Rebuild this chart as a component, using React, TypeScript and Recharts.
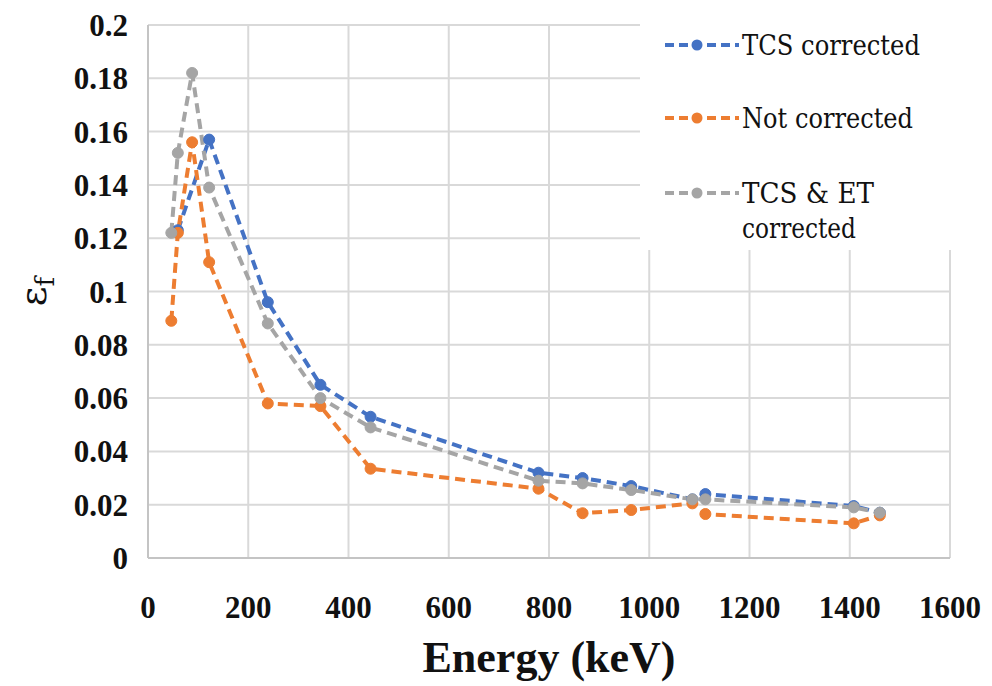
import React from 'react';
import {
  LineChart,
  Line,
  XAxis,
  YAxis,
  CartesianGrid,
} from 'recharts';

// TCS corrected
const tcsEnergy = [59.5, 122, 239, 344, 444, 779, 867, 964, 1086, 1112, 1408, 1460];
const tcsEff = [0.123, 0.157, 0.096, 0.065, 0.053, 0.032, 0.03, 0.027, 0.022, 0.024, 0.0195, 0.017];

// Not corrected
const notEnergy = [46.5, 59.5, 88, 122, 239, 344, 444, 779, 867, 964, 1086, 1112, 1408, 1460];
const notEff = [0.089, 0.122, 0.156, 0.111, 0.058, 0.057, 0.0335, 0.026, 0.0168, 0.018, 0.0205, 0.0165, 0.013, 0.016];

// TCS & ET corrected
const etEnergy = [46.5, 59.5, 88, 122, 239, 344, 444, 779, 867, 964, 1086, 1112, 1408, 1460];
const etEff = [0.122, 0.152, 0.182, 0.139, 0.088, 0.06, 0.049, 0.029, 0.028, 0.0255, 0.022, 0.022, 0.019, 0.017];

const xTicks = [0, 200, 400, 600, 800, 1000, 1200, 1400, 1600];
const yTicks = [0, 0.02, 0.04, 0.06, 0.08, 0.1, 0.12, 0.14, 0.16, 0.18, 0.2];

const seriesNames = ['TCS corrected', 'Not corrected', 'TCS & ET corrected'];
const seriesColors = ['#4472C4', '#ED7D31', '#A5A5A5'];

const toPoints = (xs: number[], ys: number[]) => xs.map((x, i) => ({ x, y: ys[i] }));

const series = [
  toPoints(tcsEnergy, tcsEff),
  toPoints(notEnergy, notEff),
  toPoints(etEnergy, etEff),
];

const FONT = 'Liberation Serif, serif';
// regular Liberation Serif falls back to a sans face here, so use DejaVu Serif for plain text
const FONT_REG = 'DejaVu Serif, Liberation Serif, serif';

const XTick = ({ x, y, payload }: any) => (
  <text x={x} y={y + 52} textAnchor="middle" fontFamily={FONT} fontWeight="bold" fontSize={31} fill="#111">
    {payload.value}
  </text>
);

const YTick = ({ x, y, payload }: any) => (
  <text x={x - 12} y={y + 11} textAnchor="end" fontFamily={FONT} fontWeight="bold" fontSize={31} fill="#111">
    {payload.value}
  </text>
);

const makeDot = (color: string) => (props: any) => {
  const { cx, cy, index } = props;
  if (cx == null || cy == null) return null;
  return <circle key={index} cx={cx} cy={cy} r={5.5} fill={color} stroke={color} strokeWidth={1} />;
};

// legend rows: one per series, the last one wraps onto two lines
const legendRows = [
  { top: 37, lines: ['TCS corrected'], widths: [178] },
  { top: 110, lines: ['Not corrected'], widths: [171] },
  { top: 185, lines: ['TCS & ET', 'corrected'], widths: [132, 114] },
];

const ChartLegend: React.FC = () => (
  <svg width={322} height={242} style={{ position: 'absolute', left: 632, top: 0, background: '#fff' }}>
    {legendRows.map((r, i) => (
      <g key={seriesNames[i]}>
        <line x1={25} y1={r.top} x2={99} y2={r.top} stroke={seriesColors[i]} strokeWidth={4} strokeDasharray="9 5" />
        <circle cx={57} cy={r.top} r={5.5} fill={seriesColors[i]} />
        {r.lines.map((t, j) => (
          <text
            key={t}
            x={102}
            y={r.top + 10 + j * 35}
            fontFamily={FONT_REG}
            fontSize={27}
            textLength={r.widths[j]}
            lengthAdjust="spacingAndGlyphs"
            fill="#111"
          >
            {t}
          </text>
        ))}
      </g>
    ))}
  </svg>
);

const App: React.FC = () => {
  return (
    <div style={{ position: 'relative', width: 976, height: 678, background: '#fff' }}>
      <LineChart width={976} height={678} margin={{ top: 17, right: 34, left: 0, bottom: 0 }}>
        <CartesianGrid stroke="#d9d9d9" strokeWidth={2} />
        <XAxis
          type="number"
          dataKey="x"
          domain={[0, 1600]}
          ticks={xTicks}
          interval={0}
          height={128}
          axisLine={{ stroke: '#c4c4c4', strokeWidth: 2 }}
          tickLine={false}
          tick={<XTick />}
          label={{
            value: 'Energy (keV)',
            position: 'insideBottom',
            offset: 0,
            dy: -14,
            style: { fontFamily: FONT, fontWeight: 'bold', fontSize: 44, fill: '#111' },
          }}
        />
        <YAxis
          type="number"
          domain={[0, 0.2]}
          ticks={yTicks}
          interval={0}
          width={140}
          axisLine={{ stroke: '#c4c4c4', strokeWidth: 2 }}
          tickLine={false}
          tick={<YTick />}
          label={({ viewBox }: any) => {
            const cx = 28;
            const cy = viewBox.y + viewBox.height / 2;
            return (
              <text
                transform={`translate(${cx}, ${cy}) rotate(-90)`}
                textAnchor="middle"
                fontFamily={FONT_REG}
                fontSize={38}
                fill="#111"
                dy={10}
              >
                ε<tspan fontSize={26} dy={8}>f</tspan>
              </text>
            );
          }}
        />
        {series.map((pts, i) => (
          <Line
            key={seriesNames[i]}
            data={pts}
            dataKey="y"
            name={seriesNames[i]}
            type="linear"
            stroke={seriesColors[i]}
            strokeWidth={4}
            strokeDasharray="10 6"
            dot={makeDot(seriesColors[i])}
            activeDot={false}
            isAnimationActive={false}
          />
        ))}
      </LineChart>
      <ChartLegend />
    </div>
  );
};

export default App;
